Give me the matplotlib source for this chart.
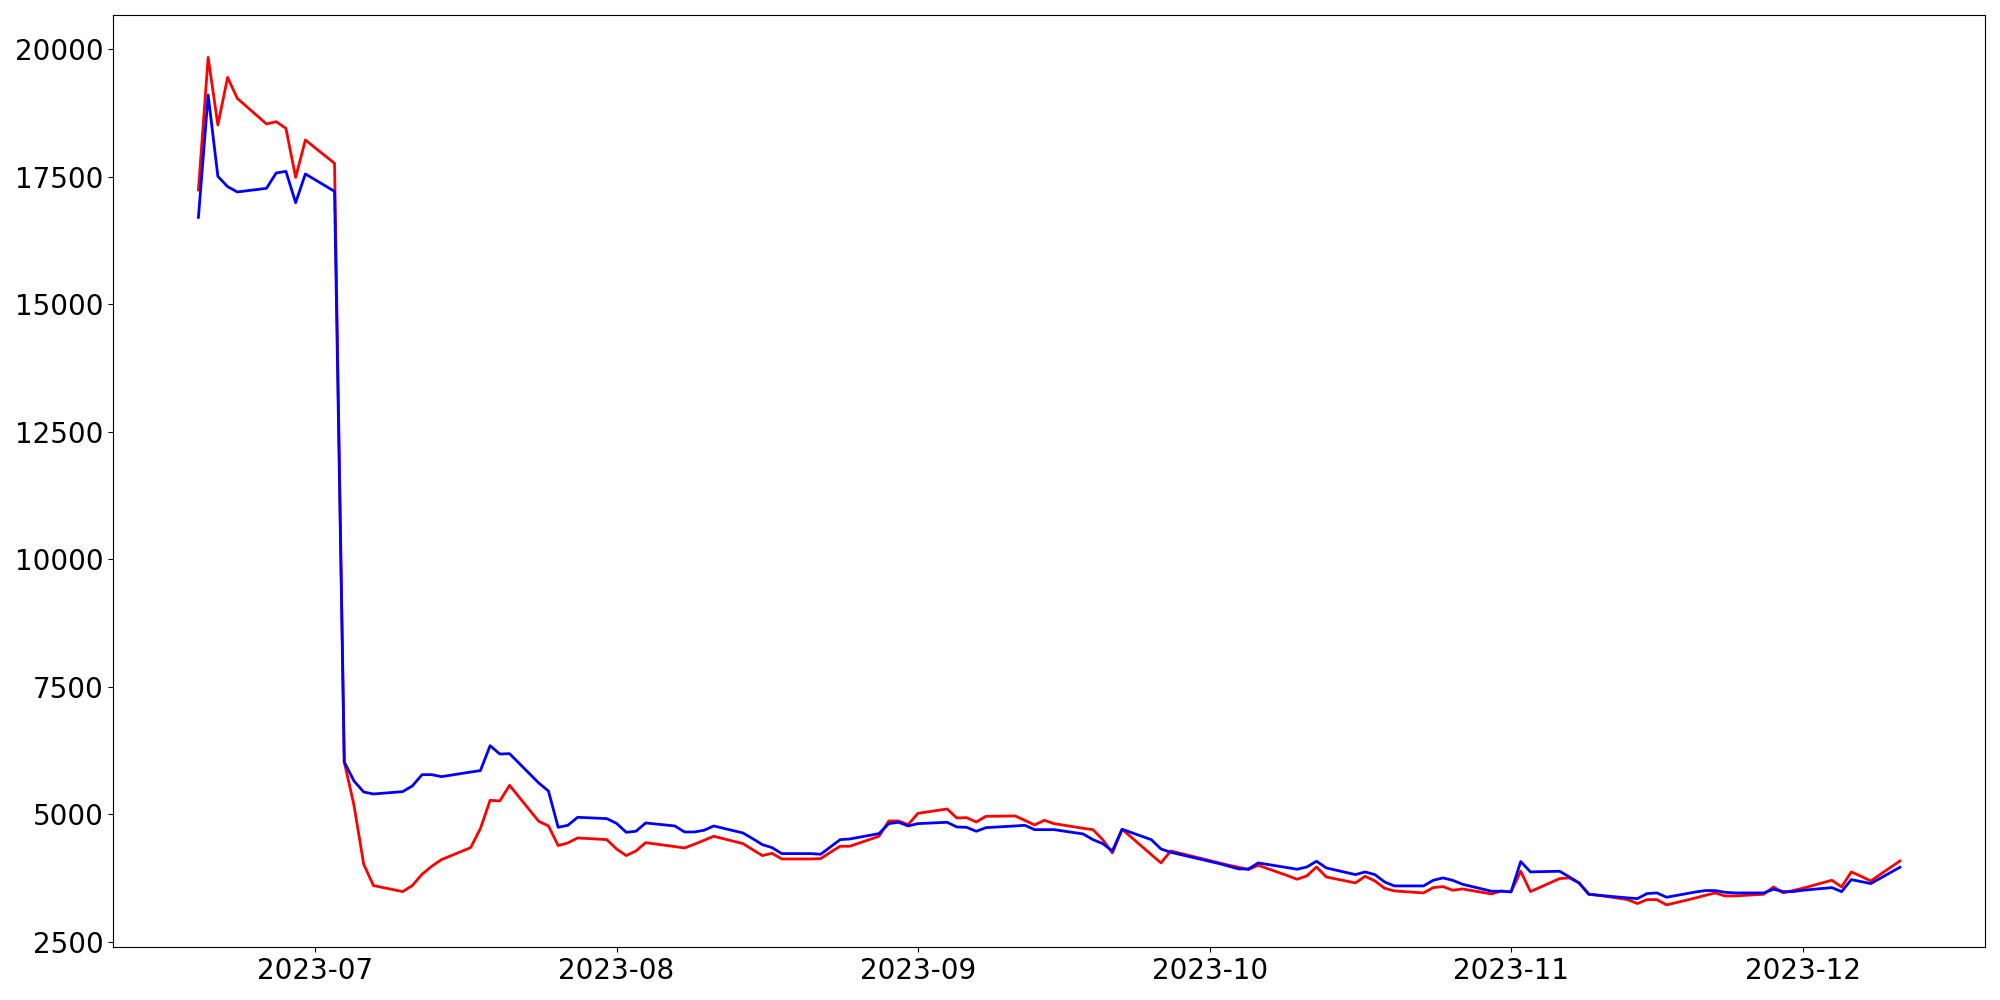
import pandas as pd
import matplotlib
matplotlib.use("Agg")
import matplotlib.pyplot as plt

dates = [
    "2023-06-19", "2023-06-20", "2023-06-21", "2023-06-22", "2023-06-23",
    "2023-06-26", "2023-06-27", "2023-06-28", "2023-06-29", "2023-06-30",
    "2023-07-03", "2023-07-04", "2023-07-05", "2023-07-06", "2023-07-07",
    "2023-07-10", "2023-07-11", "2023-07-12", "2023-07-13", "2023-07-14",
    "2023-07-17", "2023-07-18", "2023-07-19", "2023-07-20", "2023-07-21",
    "2023-07-24", "2023-07-25", "2023-07-26", "2023-07-27", "2023-07-28",
    "2023-07-31", "2023-08-01", "2023-08-02", "2023-08-03", "2023-08-04",
    "2023-08-07", "2023-08-08", "2023-08-09", "2023-08-10", "2023-08-11",
    "2023-08-14", "2023-08-15", "2023-08-16", "2023-08-17", "2023-08-18",
    "2023-08-21", "2023-08-22", "2023-08-23", "2023-08-24", "2023-08-25",
    "2023-08-28", "2023-08-29", "2023-08-30", "2023-08-31", "2023-09-01",
    "2023-09-04", "2023-09-05", "2023-09-06", "2023-09-07", "2023-09-08",
    "2023-09-11", "2023-09-12", "2023-09-13", "2023-09-14", "2023-09-15",
    "2023-09-18", "2023-09-19", "2023-09-20", "2023-09-21", "2023-09-22",
    "2023-09-25", "2023-09-26", "2023-09-27",
    "2023-10-02", "2023-10-03", "2023-10-04", "2023-10-05", "2023-10-06",
    "2023-10-09", "2023-10-10", "2023-10-11", "2023-10-12", "2023-10-13",
    "2023-10-16", "2023-10-17", "2023-10-18", "2023-10-19", "2023-10-20",
    "2023-10-23", "2023-10-24", "2023-10-25", "2023-10-26", "2023-10-27",
    "2023-10-30", "2023-10-31", "2023-11-01", "2023-11-02", "2023-11-03",
    "2023-11-06", "2023-11-07", "2023-11-08", "2023-11-09", "2023-11-10",
    "2023-11-13", "2023-11-14", "2023-11-15", "2023-11-16", "2023-11-17",
    "2023-11-20", "2023-11-21", "2023-11-22", "2023-11-23", "2023-11-24",
    "2023-11-27", "2023-11-28", "2023-11-29", "2023-11-30", "2023-12-01",
    "2023-12-04", "2023-12-05", "2023-12-06", "2023-12-07", "2023-12-08",
    "2023-12-11",
]

red_values = [
    17240, 19840, 18514, 19447, 19036,
    18534, 18579, 18448, 17487, 18220,
    17762, 6022, 5173, 4017, 3599,
    3481, 3599, 3821, 3978, 4108,
    4343, 4716, 5271, 5258, 5565,
    4859, 4768, 4383, 4435, 4533,
    4500, 4317, 4187, 4278, 4441,
    4363, 4337, 4409, 4487, 4566,
    4422, 4304, 4187, 4232, 4121,
    4121, 4128, 4252, 4370, 4370,
    4566, 4866, 4866, 4794, 5016,
    5101, 4925, 4931, 4846, 4957,
    4964, 4879, 4788, 4879, 4814,
    4722, 4696, 4500, 4239, 4703,
    4206, 4043, 4278,
    4043, 3997, 3958, 3912, 3997,
    3795, 3723, 3788, 3964, 3768,
    3651, 3781, 3690, 3546, 3494,
    3455, 3559, 3579, 3507, 3533,
    3435, 3494, 3475, 3880, 3481,
    3736, 3749, 3651, 3429, 3409,
    3324, 3246, 3324, 3324, 3220,
    3357, 3409, 3455, 3396, 3396,
    3429, 3572, 3455, 3501, 3546,
    3703, 3572, 3867, 3782, 3690,
    4082,
]

blue_values = [
    16703, 19102, 17507, 17305, 17201,
    17272, 17573, 17605, 16991, 17554,
    17213, 6022, 5650, 5434, 5395,
    5441, 5552, 5774, 5774, 5735,
    5826, 5853, 6342, 6179, 6186,
    5611, 5454, 4742, 4781, 4938,
    4912, 4820, 4644, 4664, 4827,
    4768, 4650, 4650, 4683, 4768,
    4631, 4520, 4402, 4343, 4226,
    4226, 4213, 4356, 4500, 4513,
    4618, 4814, 4840, 4768, 4814,
    4840, 4748, 4742, 4664, 4735,
    4768, 4781, 4696, 4696, 4696,
    4611, 4500, 4422, 4278, 4703,
    4500, 4317, 4252,
    4030, 3978, 3925, 3925, 4043,
    3951, 3919, 3964, 4076, 3945,
    3814, 3866, 3814, 3670, 3592,
    3592, 3703, 3749, 3703, 3625,
    3488, 3488, 3475, 4070, 3867,
    3880, 3768, 3651, 3429, 3409,
    3357, 3344, 3442, 3455, 3370,
    3474, 3501, 3501, 3468, 3455,
    3455, 3527, 3481, 3481, 3507,
    3559, 3481, 3716, 3677, 3638,
    3958,
]

x = pd.to_datetime(dates)

plt.figure(figsize=(20, 10), dpi=100)
plt.plot(x, red_values, color="red", linewidth=2)
plt.plot(x, blue_values, color="blue", linewidth=2)
plt.xticks(fontsize=20)
plt.yticks(fontsize=20)
plt.tight_layout()
plt.savefig("out.png")
